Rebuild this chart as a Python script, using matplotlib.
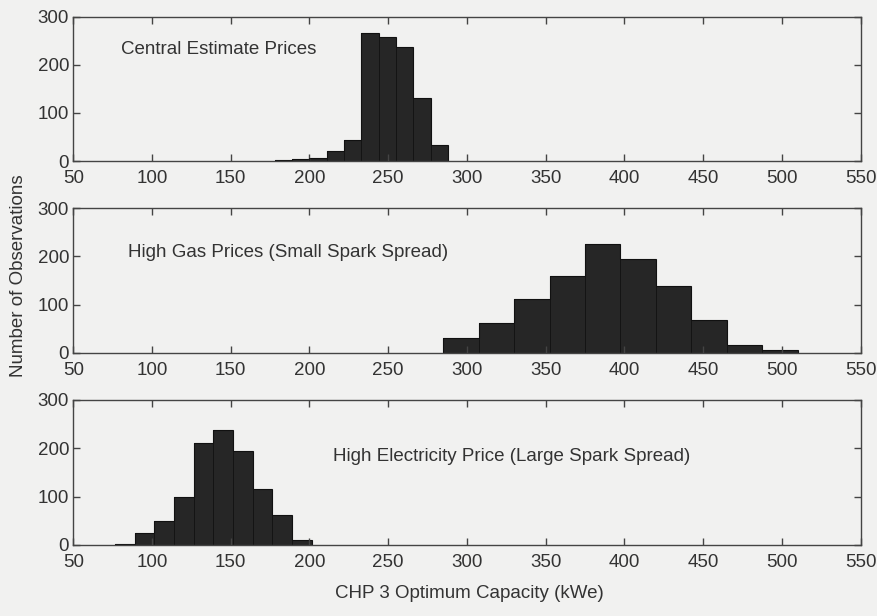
import matplotlib.pyplot as plt

# histogram data (bin edges in kWe, counts)
central_edges = [178, 189, 200, 211, 222, 233, 244, 255, 266, 277, 288]
central_counts = [2, 4, 6, 20, 43, 267, 257, 238, 131, 34]

gas_edges = [285, 307.5, 330, 352.5, 375, 397.5, 420, 442.5, 465, 487.5, 510]
gas_counts = [31, 62, 112, 160, 225, 195, 139, 67, 16, 5]

elec_edges = [76.5, 89, 101.5, 114, 126.5, 139, 151.5, 164, 176.5, 189, 201.5]
elec_counts = [2, 25, 49, 99, 211, 238, 194, 115, 63, 10]

labels = ["Central Estimate Prices",
          "High Gas Prices (Small Spark Spread)",
          "High Electricity Price (Large Spark Spread)"]
label_pos = [(80, 231), (85, 209), (215, 184)]

xticks = [50, 100, 150, 200, 250, 300, 350, 400, 450, 500, 550]
yticks = [0, 100, 200, 300]

plt.rcParams['font.family'] = ['Liberation Sans', 'DejaVu Sans']
txt = '#333333'
bg = '#f1f1f0'
fs = 13.5

fig = plt.figure(figsize=(8.78, 6.16), dpi=100)
fig.patch.set_facecolor(bg)

# axes rectangles [left, bottom, width, height]
rects = [[0.0835, 0.7386, 0.8966, 0.2343],
         [0.0835, 0.4274, 0.8966, 0.2344],
         [0.0835, 0.1153, 0.8966, 0.2354]]

panels = [(central_edges, central_counts),
          (gas_edges, gas_counts),
          (elec_edges, elec_counts)]

for rect, (edges, counts), lab, pos in zip(rects, panels, labels, label_pos):
    ax = fig.add_axes(rect)
    ax.set_facecolor(bg)
    ax.stairs(counts, edges, fill=True, color='#262626')
    ax.stairs(counts, edges, color='#111111', linewidth=0.8)
    for i in range(len(counts)):
        ax.plot([edges[i], edges[i]], [0, counts[i]], color='#111111', lw=0.6)
    ax.set_xlim(50, 550)
    ax.set_ylim(0, 300)
    ax.set_xticks(xticks)
    ax.set_yticks(yticks)
    ax.tick_params(direction='in', length=5, width=1, top=True, right=True,
                   labelsize=fs, colors='#444444', labelcolor=txt)
    ax.tick_params(axis='x', pad=6.5)
    ax.tick_params(axis='y', pad=3)
    for s in ax.spines.values():
        s.set_color('#444444')
        s.set_linewidth(1.0)
    ax.text(pos[0], pos[1], lab, fontsize=fs, color=txt, va='center')

fig.text(0.0216, 0.552, 'Number of Observations', rotation=90, fontsize=fs,
         color=txt, ha='center', va='center')
fig.text(0.535, 0.037, 'CHP 3 Optimum Capacity (kWe)', fontsize=fs,
         color=txt, ha='center', va='center')

fig.savefig('out.png', dpi=100, facecolor=bg)
